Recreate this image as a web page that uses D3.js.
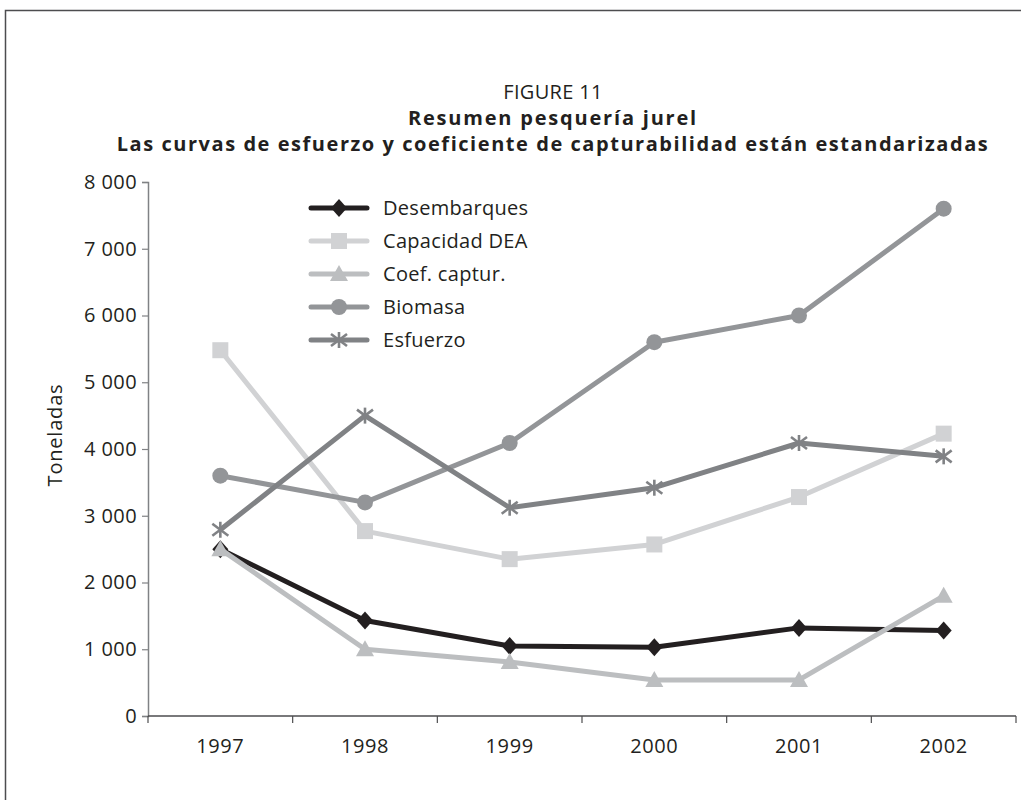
<!DOCTYPE html>
<html>
<head>
<meta charset="utf-8">
<script src="https://cdn.jsdelivr.net/npm/d3@7"></script>
<style>
  html, body { margin: 0; padding: 0; background: #fff; }
  svg { display: block; font-family: "Open Sans", "Noto Sans", sans-serif; }
</style>
</head>
<body>
<svg id="chart" width="1021" height="800"></svg>
<script>
// Fishery summary data (toneladas), one array per series
const years = ["1997", "1998", "1999", "2000", "2001", "2002"];
const desembarques = [2500, 1430, 1050, 1030, 1320, 1280];
const capacidadDEA = [5480, 2770, 2350, 2570, 3280, 4230];
const coefCaptur   = [2500, 1000, 810, 540, 540, 1800];
const biomasa      = [3600, 3200, 4090, 5600, 6000, 7600];
const esfuerzo     = [2790, 4500, 3120, 3420, 4090, 3890];
const yTicks = [0, 1000, 2000, 3000, 4000, 5000, 6000, 7000, 8000];

const series = [
  { name: "Desembarques",  values: desembarques, color: "#231f20", marker: "diamond" },
  { name: "Capacidad DEA", values: capacidadDEA, color: "#d1d2d4", marker: "square" },
  { name: "Coef. captur.", values: coefCaptur,   color: "#bcbec0", marker: "triangle" },
  { name: "Biomasa",       values: biomasa,      color: "#939598", marker: "circle" },
  { name: "Esfuerzo",      values: esfuerzo,     color: "#808285", marker: "star" }
];

const FONT = 20;
const TEXT = "#231f20";
const svg = d3.select("#chart");

// Outer frame
svg.append("rect")
  .attr("x", 5.5).attr("y", 10.5)
  .attr("width", 1040).attr("height", 800)
  .attr("fill", "none").attr("stroke", "#4d4d4f").attr("stroke-width", 1.5);

// Titles
const titles = svg.append("g").attr("text-anchor", "middle").attr("fill", TEXT).attr("font-size", FONT);
titles.append("text").attr("x", 553).attr("y", 99).attr("letter-spacing", 0.3).text("FIGURE 11");
titles.append("text").attr("x", 553).attr("y", 125).attr("font-weight", "bold").attr("letter-spacing", 1.8)
  .text("Resumen pesquería jurel");
titles.append("text").attr("x", 553).attr("y", 151).attr("font-weight", "bold").attr("letter-spacing", 1.55)
  .text("Las curvas de esfuerzo y coeficiente de capturabilidad están estandarizadas");

// Plot area
const plotLeft = 148, plotRight = 1016, plotTop = 182, plotBottom = 716;

const x = d3.scaleBand().domain(years).range([plotLeft, plotRight]).paddingInner(0).paddingOuter(0);
const y = d3.scaleLinear().domain([0, 8000]).range([plotBottom, plotTop]);
const cx = d => x(d) + x.bandwidth() / 2;

const locale = d3.formatLocale({ decimal: ",", thousands: " ", grouping: [3], currency: ["", ""] });
const fmt = locale.format(",d");

// Y axis
const yAxis = svg.append("g")
  .attr("transform", `translate(${plotLeft},0)`)
  .call(d3.axisLeft(y).tickValues(yTicks).tickFormat(fmt).tickSize(6).tickPadding(5));
yAxis.select(".domain").attr("stroke", "#808285").attr("stroke-width", 1.5);
yAxis.selectAll(".tick line").attr("stroke", "#808285").attr("stroke-width", 1.2);
yAxis.selectAll(".tick text").attr("font-size", FONT).attr("fill", TEXT)
  .attr("font-family", "'Open Sans', 'Noto Sans', sans-serif").attr("letter-spacing", 0.4);

// X axis: ticks on band boundaries, labels at band centres
const xAxis = svg.append("g").attr("transform", `translate(0,${plotBottom})`);
xAxis.append("line")
  .attr("x1", plotLeft).attr("x2", plotRight).attr("y1", 0).attr("y2", 0)
  .attr("stroke", "#4d4d4f").attr("stroke-width", 1.5);
const boundaries = years.map(d => x(d)).concat([plotRight]);
xAxis.selectAll("line.tick").data(boundaries).join("line")
  .attr("class", "tick")
  .attr("x1", d => d).attr("x2", d => d).attr("y1", 0).attr("y2", 7)
  .attr("stroke", "#4d4d4f").attr("stroke-width", 1.2);
xAxis.selectAll("text").data(years).join("text")
  .attr("x", d => cx(d)).attr("y", 37)
  .attr("text-anchor", "middle").attr("font-size", FONT).attr("fill", TEXT).attr("letter-spacing", 0.6)
  .text(d => d);

// Y axis title
svg.append("text")
  .attr("transform", "translate(62,435) rotate(-90)")
  .attr("text-anchor", "middle").attr("font-size", FONT).attr("fill", TEXT).attr("letter-spacing", 0.8)
  .text("Toneladas");

// Marker drawing helper
function drawMarker(g, type, px, py, color) {
  if (type === "diamond") {
    g.append("path").attr("d", `M${px},${py - 9}L${px + 8},${py}L${px},${py + 9}L${px - 8},${py}Z`).attr("fill", color);
  } else if (type === "square") {
    g.append("rect").attr("x", px - 8).attr("y", py - 8).attr("width", 16).attr("height", 16).attr("fill", color);
  } else if (type === "triangle") {
    g.append("path").attr("d", `M${px},${py - 9}L${px + 9},${py + 7}L${px - 9},${py + 7}Z`).attr("fill", color);
  } else if (type === "circle") {
    g.append("circle").attr("cx", px).attr("cy", py).attr("r", 8).attr("fill", color);
  } else if (type === "star") {
    const s = 8;
    const arms = [[0, -s, 0, s], [-s, -s * 0.75, s, s * 0.75], [-s, s * 0.75, s, -s * 0.75]];
    arms.forEach(a => g.append("line")
      .attr("x1", px + a[0]).attr("y1", py + a[1]).attr("x2", px + a[2]).attr("y2", py + a[3])
      .attr("stroke", color).attr("stroke-width", 2.6));
  }
}

// Series lines and markers
const line = d3.line().x((d, i) => cx(years[i])).y(d => y(d));
const plot = svg.append("g");
series.forEach(s => {
  const g = plot.append("g");
  g.append("path").datum(s.values)
    .attr("d", line).attr("fill", "none")
    .attr("stroke", s.color).attr("stroke-width", 5).attr("stroke-linejoin", "round");
  s.values.forEach((v, i) => drawMarker(g, s.marker, cx(years[i]), y(v), s.color));
});

// Legend
const legend = svg.append("g");
series.forEach((s, i) => {
  const ly = 208 + i * 33;
  const g = legend.append("g");
  g.append("line").attr("x1", 311).attr("x2", 367).attr("y1", ly).attr("y2", ly)
    .attr("stroke", s.color).attr("stroke-width", 5).attr("stroke-linecap", "round");
  drawMarker(g, s.marker, 339, ly, s.color);
  g.append("text").attr("x", 383).attr("y", ly + 7)
    .attr("font-size", FONT).attr("fill", TEXT).attr("letter-spacing", 0.3).text(s.name);
});
</script>
</body>
</html>
